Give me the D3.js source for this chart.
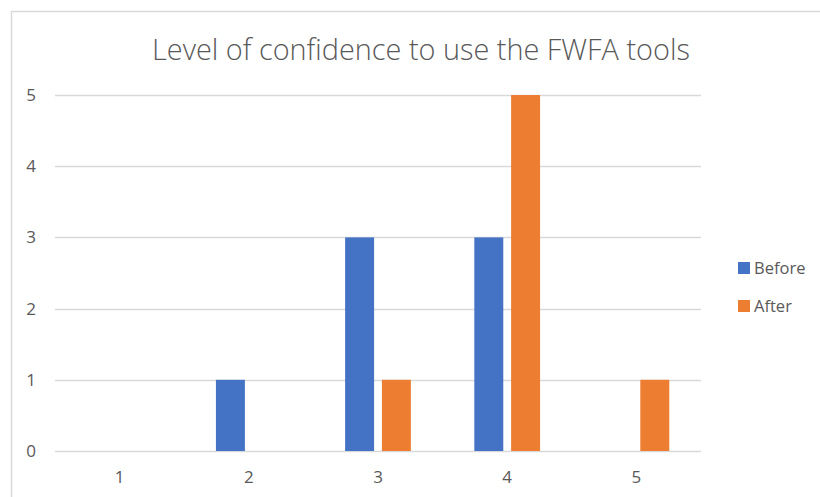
<!DOCTYPE html>
<html>
<head>
<meta charset="utf-8">
<script src="https://cdn.jsdelivr.net/npm/d3@7"></script>
<style>
  body { margin: 0; background: #fff; }
  text { font-family: "Open Sans", "Noto Sans", sans-serif; }
</style>
</head>
<body>
<div id="chart"></div>
<script>
const categories = ["1", "2", "3", "4", "5"];
const seriesNames = ["Before", "After"];
const before = [0, 1, 3, 3, 0];
const after = [0, 0, 1, 5, 1];
const yTicks = [0, 1, 2, 3, 4, 5];
const colors = ["#4472C4", "#ED7D31"];

const width = 820, height = 497;
const plot = { left: 55, right: 701, top: 95, bottom: 451 };

const svg = d3.select("#chart").append("svg")
  .attr("width", width)
  .attr("height", height);

// chart area frame (only top and left visible in the crop)
svg.append("path")
  .attr("d", `M11.5,${height} V11.5 H${width}`)
  .attr("fill", "none")
  .attr("stroke", "#d9d9d9")
  .attr("stroke-width", 1.5);

const y = d3.scaleLinear().domain([0, 5]).range([plot.bottom, plot.top]);

// Excel-like gap width 219%, overlap -27%
const x0 = d3.scaleBand().domain(categories)
  .range([plot.left, plot.right])
  .paddingInner(2.19 / 4.46)
  .paddingOuter(2.19 / 4.46 / 2);
const x1 = d3.scaleBand().domain(seriesNames)
  .range([0, x0.bandwidth()])
  .paddingInner(0.27 / 1.27);

// gridlines
svg.append("g").selectAll("line")
  .data(yTicks)
  .join("line")
  .attr("x1", plot.left).attr("x2", plot.right)
  .attr("y1", d => Math.round(y(d)) + 0.5)
  .attr("y2", d => Math.round(y(d)) + 0.5)
  .attr("stroke", "#d9d9d9")
  .attr("stroke-width", 1.3);

// y tick labels
svg.append("g").selectAll("text")
  .data(yTicks)
  .join("text")
  .attr("x", 36)
  .attr("y", d => y(d))
  .attr("dy", "0.35em")
  .attr("text-anchor", "end")
  .attr("fill", "#595959")
  .style("font-size", "17px")
  .text(d => d);

// x tick labels
svg.append("g").selectAll("text")
  .data(categories)
  .join("text")
  .attr("x", d => x0(d) + x0.bandwidth() / 2)
  .attr("y", 477)
  .attr("dy", "0.35em")
  .attr("text-anchor", "middle")
  .attr("fill", "#595959")
  .style("font-size", "17px")
  .text(d => d);

// bars
const rows = categories.map((c, i) => ({ cat: c, values: [before[i], after[i]] }));
const groups = svg.append("g").selectAll("g")
  .data(rows)
  .join("g")
  .attr("transform", d => `translate(${x0(d.cat)},0)`);

groups.selectAll("rect")
  .data(d => d.values.map((v, j) => ({ name: seriesNames[j], value: v, j })))
  .join("rect")
  .filter(d => d.value > 0)
  .attr("x", d => x1(d.name))
  .attr("width", x1.bandwidth())
  .attr("y", d => y(d.value))
  .attr("height", d => y(0) - y(d.value))
  .attr("fill", d => colors[d.j]);

// title
const title = svg.append("text")
  .attr("x", 421)
  .attr("y", 60)
  .attr("text-anchor", "middle")
  .attr("fill", "#595959")
  .style("font-size", "26px")
  .style("font-weight", 300)
  .text("Level of confidence to use the FWFA tools");
const tw = title.node().getComputedTextLength();
title.style("font-size", (26 * 538 / tw) + "px");

// legend
const legend = svg.append("g").selectAll("g")
  .data(seriesNames)
  .join("g")
  .attr("transform", (d, i) => `translate(738,${262 + i * 38})`);

legend.append("rect")
  .attr("width", 12)
  .attr("height", 12)
  .attr("fill", (d, i) => colors[i]);

legend.append("text")
  .attr("x", 16)
  .attr("y", 6)
  .attr("dy", "0.35em")
  .attr("fill", "#595959")
  .style("font-size", "16.5px")
  .text(d => d);
</script>
</body>
</html>
